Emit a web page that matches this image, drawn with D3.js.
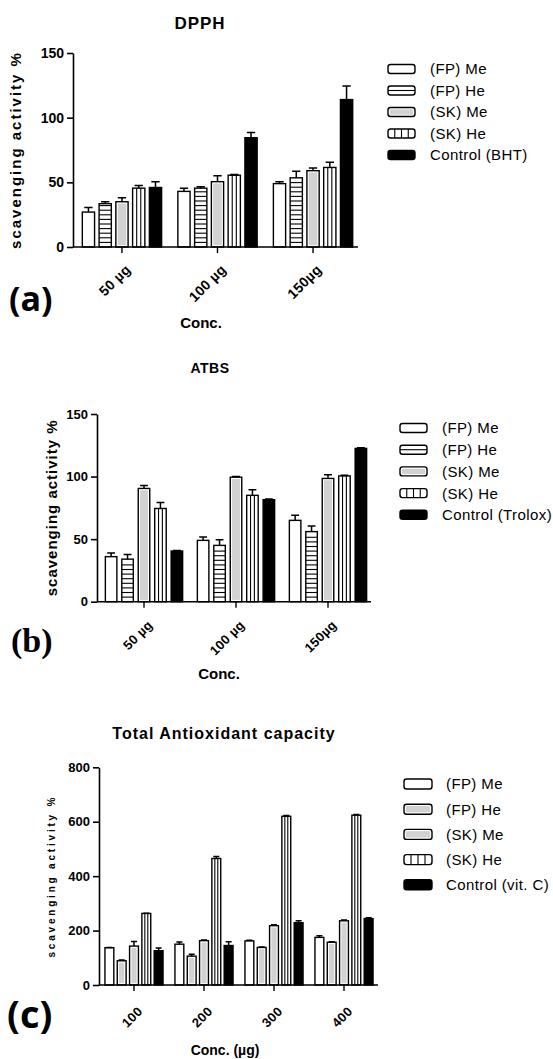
<!DOCTYPE html>
<html>
<head>
<meta charset="utf-8">
<script src="https://cdn.jsdelivr.net/npm/d3@7"></script>
<style>
body { margin: 0; background: #fff; }
svg { display: block; }
text { font-family: "Liberation Sans", Arial, sans-serif; fill: #000; }
</style>
</head>
<body>
<div id="chart"></div>
<script>
// Series shared by the three panels (the control differs).
var seriesNames = ["(FP) Me", "(FP) He", "(SK) Me", "(SK) He"];

// (a) DPPH
var dpphCats = ["50 µg", "100 µg", "150µg"];
var dpphControl = "Control (BHT)";
var dpphMeans = [
    [27, 43, 49],
    [33.5, 45.5, 53.5],
    [35, 50.5, 59],
    [45.5, 55.5, 61.5],
    [46, 84.5, 114]
];
var dpphErrs = [
    [3.5, 2.5, 1.5],
    [1.5, 1, 5],
    [3, 4.5, 2],
    [2, 0.5, 4],
    [4.5, 4, 10.5]
];
var dpphTicks = [0, 50, 100, 150];

// (b) ATBS
var atbsCats = ["50 µg", "100 µg", "150µg"];
var atbsControl = "Control (Trolox)";
var atbsMeans = [
    [36, 49, 65],
    [34, 45, 56],
    [90.5, 99.5, 98.5],
    [74.5, 85, 100.5],
    [40.5, 81.5, 122.5]
];
var atbsErrs = [
    [3, 2.7, 4],
    [3.7, 4.5, 4.5],
    [2.4, 0.5, 3],
    [4.8, 4.5, 0.5],
    [0.5, 0.5, 0.5]
];
var atbsTicks = [0, 50, 100, 150];

// (c) Total antioxidant capacity
var tacCats = ["100", "200", "300", "400"];
var tacControl = "Control (vit. C)";
var tacMeans = [
    [137, 150, 162, 175],
    [89, 106, 138, 157],
    [143, 163, 218, 236],
    [263, 465, 620, 624],
    [126, 145, 229, 244]
];
var tacErrs = [
    [1, 8, 2, 6],
    [3, 7, 2, 2],
    [17, 2, 3, 3],
    [1, 7, 3, 3],
    [10, 14, 7, 3]
];
var tacTicks = [0, 200, 400, 600, 800];

var svg = d3.select("#chart").append("svg")
    .attr("width", 553)
    .attr("height", 1059);

// Draws one bar (or legend swatch) in the given fill style.
function drawBar(g, x, y, w, h, style, opts) {
    opts = opts || {};
    var rx = opts.rx || 0;
    if (h < 0.5) h = 0.5;
    g.append("rect")
        .attr("x", x).attr("y", y).attr("width", w).attr("height", h)
        .attr("rx", rx)
        .attr("fill", style == "black" ? "#000" : "#fff")
        .attr("stroke", "#000")
        .attr("stroke-width", 1.4);
    if (style == "gray") {
        var inset = 1.8;
        g.append("rect")
            .attr("x", x + inset).attr("y", y + inset)
            .attr("width", Math.max(0, w - 2 * inset))
            .attr("height", Math.max(0, h - 2 * inset))
            .attr("fill", "#d2d2d2");
    } else if (style == "hstripe") {
        var step = opts.hstep || 4.6;
        for (var yy = y + h - step; yy > y + 1.5; yy -= step) {
            g.append("line")
                .attr("x1", x).attr("x2", x + w)
                .attr("y1", yy).attr("y2", yy)
                .attr("stroke", "#000").attr("stroke-width", 1.1);
        }
    } else if (style == "vstripe") {
        var n = opts.vlines || 2;
        for (var j = 1; j <= n; j++) {
            var xx = x + w * j / (n + 1);
            g.append("line")
                .attr("x1", xx).attr("x2", xx)
                .attr("y1", y).attr("y2", y + h)
                .attr("stroke", "#000").attr("stroke-width", 1.1);
        }
    }
}

function drawPanel(p) {
    var g = svg.append("g");
    var styles = p.styles;

    var x0 = d3.scaleBand()
        .domain(p.cats)
        .range([p.xStart, p.xEnd])
        .paddingInner(p.groupPad)
        .paddingOuter(p.groupPad / 2);
    var keys = d3.range(p.means.length);
    var x1 = d3.scaleBand()
        .domain(keys)
        .range([0, x0.bandwidth()])
        .paddingInner(p.barPad)
        .paddingOuter(0);
    var y = d3.scaleLinear()
        .domain([0, p.ticks[p.ticks.length - 1]])
        .range([p.y0, p.yTop]);

    // Bars
    keys.forEach(function(s) {
        p.cats.forEach(function(c, i) {
            var v = p.means[s][i];
            var bx = x0(c) + x1(s),
                bw = x1.bandwidth(),
                by = y(v);
            var bg = g.append("g");
            drawBar(bg, bx, by, bw, p.y0 - by, styles[s], {vlines: 2});
            // upward error bar
            var e = p.errs[s][i];
            var ey = y(v + e),
                cx = bx + bw / 2,
                cap = bw * 0.34;
            bg.append("path")
                .attr("d", "M" + cx + "," + by + "V" + ey + "M" + (cx - cap) + "," + ey + "H" + (cx + cap))
                .attr("fill", "none")
                .attr("stroke", "#000")
                .attr("stroke-width", 1.5);
        });
    });

    // Y axis
    var yAxis = g.append("g")
        .attr("transform", "translate(" + p.axisLeft + ",0)")
        .call(d3.axisLeft(y).tickValues(p.ticks).tickSize(6).tickSizeOuter(0).tickPadding(3));
    yAxis.select(".domain").attr("stroke-width", 1.6);
    yAxis.selectAll(".tick line").attr("stroke-width", 1.6);
    yAxis.selectAll(".tick text")
        .style("font-family", "'Liberation Sans', Arial, sans-serif")
        .style("font-weight", "bold")
        .style("font-size", p.tickFont + "px")
        .attr("fill", "#000");

    // X axis
    var xAxis = g.append("g")
        .attr("transform", "translate(0," + p.y0 + ")")
        .call(d3.axisBottom(x0).tickSize(6).tickSizeOuter(0));
    xAxis.select(".domain").attr("d", "M" + p.axisLeft + ",0H" + p.axisRight).attr("stroke-width", 1.6);
    xAxis.selectAll(".tick line").attr("stroke-width", 1.4);
    xAxis.selectAll(".tick text")
        .style("font-family", "'Liberation Sans', Arial, sans-serif")
        .style("font-weight", "bold")
        .style("font-size", p.xFont + "px")
        .style("letter-spacing", "0.3px")
        .attr("fill", "#000")
        .attr("text-anchor", "end")
        .attr("y", 0).attr("dy", "0.35em")
        .attr("transform", "translate(" + p.xLabDx + "," + p.xLabDy + ") rotate(-45)");

    // Titles and labels
    g.append("text")
        .attr("x", p.titleX).attr("y", p.titleY)
        .attr("text-anchor", "middle")
        .style("font-weight", "bold")
        .style("font-size", p.titleFont + "px")
        .style("letter-spacing", p.titleSpacing + "px")
        .text(p.title);

    g.append("text")
        .attr("transform", "translate(" + p.yLabX + "," + ((p.y0 + p.yTop) / 2) + ") rotate(-90)")
        .attr("text-anchor", "middle")
        .style("font-weight", "bold")
        .style("font-size", p.yLabFont + "px")
        .style("letter-spacing", p.yLabSpacing + "px")
        .text("scavenging activity %");

    g.append("text")
        .attr("x", p.concX).attr("y", p.concY)
        .attr("text-anchor", "middle")
        .style("font-weight", "bold")
        .style("font-size", p.concFont + "px")
        .text(p.concText);

    g.append("text")
        .attr("x", p.tagX).attr("y", p.tagY)
        .style("font-family", p.tagFamily)
        .style("font-weight", "bold")
        .style("font-size", p.tagFont + "px")
        .text(p.tag);

    // Legend
    var names = seriesNames.concat([p.control]);
    var lg = g.append("g");
    names.forEach(function(name, i) {
        var cy = p.legY + i * p.legStep;
        drawBar(lg, p.legX, cy - p.legH / 2, p.legW, p.legH, styles[i], {rx: 2.5, vlines: 3, hstep: p.legH / 2});
        lg.append("text")
            .attr("x", p.legTextX).attr("y", cy)
            .attr("dy", "0.36em")
            .style("font-size", p.legFont + "px")
            .style("letter-spacing", "0.4px")
            .text(name);
    });
}

drawPanel({
    cats: dpphCats, means: dpphMeans, errs: dpphErrs, ticks: dpphTicks, control: dpphControl,
    styles: ["white", "hstripe", "gray", "vstripe", "black"],
    xStart: 74.2, xEnd: 360.8, groupPad: 0.17, barPad: 0.27,
    axisLeft: 73, axisRight: 358, y0: 247, yTop: 53,
    tickFont: 14, xFont: 14, xLabDx: 6, xLabDy: 20,
    title: "DPPH", titleX: 200, titleY: 29, titleFont: 17, titleSpacing: 1,
    yLabX: 21, yLabFont: 15, yLabSpacing: 2,
    concText: "Conc.", concX: 201, concY: 328, concFont: 15,
    tag: "(a)", tagX: 9, tagY: 311, tagFont: 34, tagFamily: "'Open Sans', sans-serif",
    legX: 388, legW: 27, legH: 9, legY: 69, legStep: 21.5, legTextX: 430, legFont: 15
});

drawPanel({
    cats: atbsCats, means: atbsMeans, errs: atbsErrs, ticks: atbsTicks, control: atbsControl,
    styles: ["white", "hstripe", "gray", "vstripe", "black"],
    xStart: 98, xEnd: 374, groupPad: 0.16, barPad: 0.3,
    axisLeft: 97, axisRight: 371, y0: 601.7, yTop: 414,
    tickFont: 13, xFont: 13, xLabDx: 6, xLabDy: 21,
    title: "ATBS", titleX: 210, titleY: 373, titleFont: 14, titleSpacing: 0.5,
    yLabX: 57, yLabFont: 15, yLabSpacing: 1,
    concText: "Conc.", concX: 219, concY: 679, concFont: 15,
    tag: "(b)", tagX: 11, tagY: 652, tagFont: 34, tagFamily: "'Liberation Serif', 'Times New Roman', serif",
    legX: 400, legW: 27, legH: 9, legY: 428, legStep: 21.7, legTextX: 442, legFont: 15
});

drawPanel({
    cats: tacCats, means: tacMeans, errs: tacErrs, ticks: tacTicks, control: tacControl,
    styles: ["white", "gray", "gray", "vstripe", "black"],
    xStart: 99, xEnd: 379, groupPad: 0.17, barPad: 0.28,
    axisLeft: 99, axisRight: 378, y0: 985, yTop: 767.3,
    tickFont: 13, xFont: 13, xLabDx: 6, xLabDy: 24,
    title: "Total Antioxidant capacity", titleX: 224, titleY: 739, titleFont: 16, titleSpacing: 1,
    yLabX: 55, yLabFont: 10, yLabSpacing: 2.8,
    concText: "Conc. (µg)", concX: 225, concY: 1055, concFont: 14,
    tag: "(c)", tagX: 7, tagY: 1028, tagFont: 38, tagFamily: "'Open Sans', sans-serif",
    legX: 404, legW: 28, legH: 10, legY: 784, legStep: 25.2, legTextX: 446, legFont: 15
});
</script>
</body>
</html>
